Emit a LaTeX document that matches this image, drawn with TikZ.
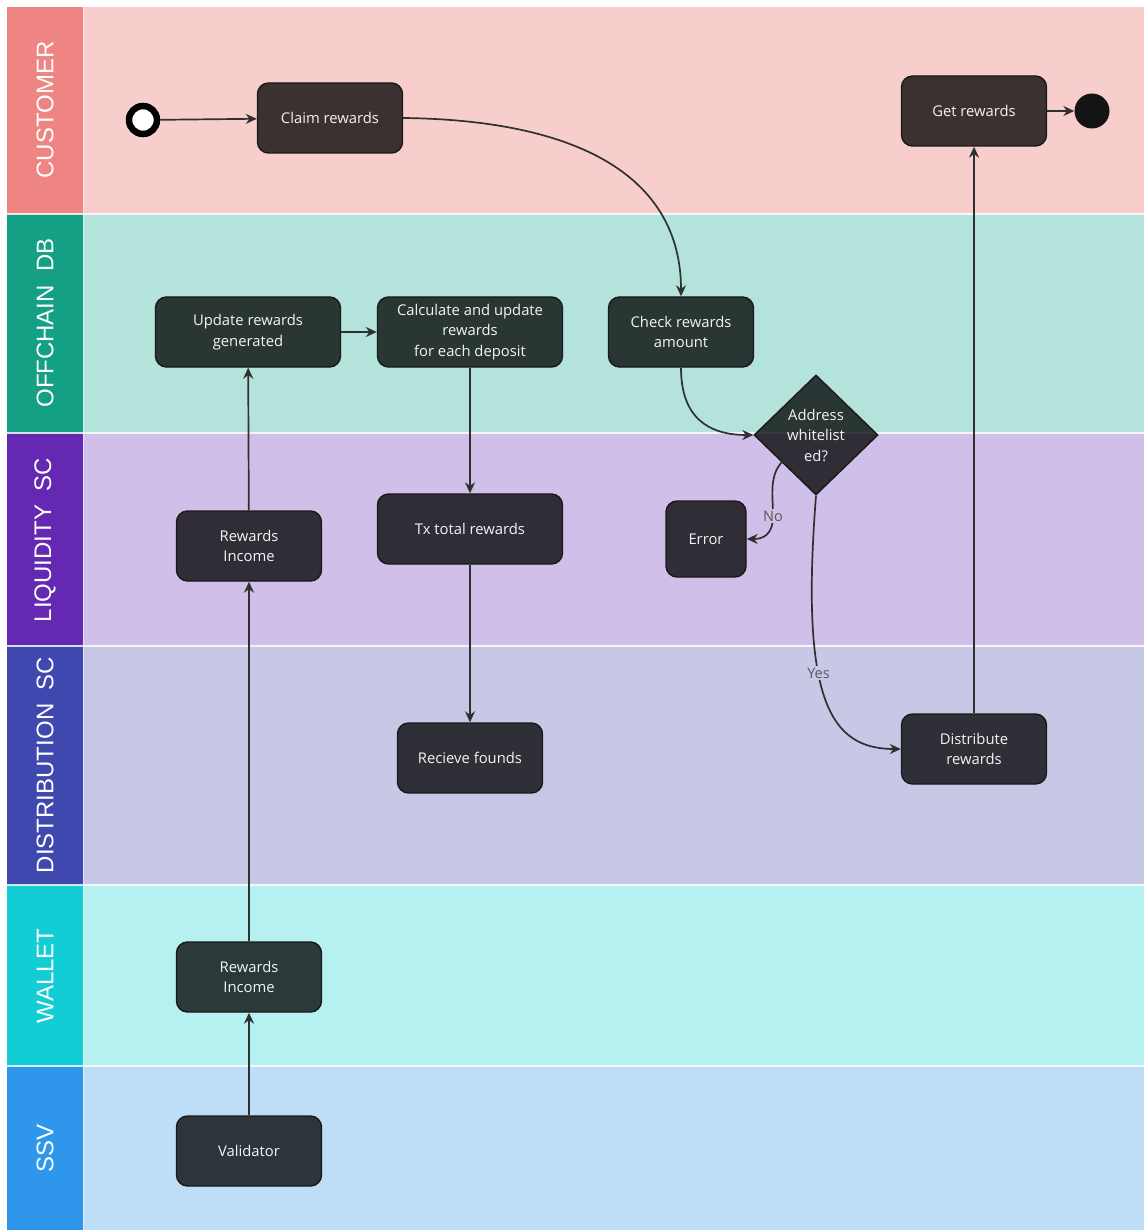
\documentclass[tikz,border=0pt]{standalone}
\usepackage{fontspec}
\setmainfont{Open Sans}
\newfontfamily\lanefont{Liberation Sans}
\usetikzlibrary{shapes.geometric,arrows.meta}
\definecolor{custL}{HTML}{EF8582}\definecolor{custB}{HTML}{F8CECC}
\definecolor{offL}{HTML}{14A085}\definecolor{offB}{HTML}{B3E3DA}
\definecolor{liqL}{HTML}{6528B2}\definecolor{liqB}{HTML}{D0BFE8}
\definecolor{disL}{HTML}{3F48AE}\definecolor{disB}{HTML}{C7C8E6}
\definecolor{walL}{HTML}{13CDD4}\definecolor{walB}{HTML}{B5F1F0}
\definecolor{ssvL}{HTML}{2E97EB}\definecolor{ssvB}{HTML}{BEDEF7}
\definecolor{edgec}{HTML}{303030}
\definecolor{boxtext}{HTML}{F4F4F4}
\begin{document}
\begin{tikzpicture}[x=1pt,y=-1pt,
  lanelabel/.style={rotate=90,text=white,font=\lanefont\fontsize{24}{24}\selectfont},
  actbox/.style={draw=black!90,line width=1.4pt,rounded corners=11pt,fill=black,fill opacity=0.76,text opacity=1,text=boxtext,
     font=\fontsize{14.8}{20.5}\selectfont,align=center,minimum height=70pt,inner sep=2pt},
  decision/.style={diamond,draw=black!90,line width=1.4pt,fill=black,fill opacity=0.76,text opacity=1,text=boxtext,
     font=\fontsize{14.8}{20.5}\selectfont,align=center,minimum width=124pt,minimum height=120pt,inner sep=0pt},
  flow/.style={draw=edgec,line width=1.7pt,-{Stealth[length=11pt,width=10pt]}},
  elabel/.style={fill=#1,text=black!65,font=\fontsize{14.5}{14.5}\selectfont,inner sep=1.5pt}
]
\useasboundingbox (0,0) rectangle (1144,1230);
\fill[white] (0,0) rectangle (1144,1230);
% lanes
\fill[custB] (83,7) rectangle (1144,214);
\fill[offB] (83,214) rectangle (1144,433);
\fill[liqB] (83,433) rectangle (1144,646);
\fill[disB] (83,646) rectangle (1144,885);
\fill[walB] (83,885) rectangle (1144,1066);
\fill[ssvB] (83,1066) rectangle (1144,1230);
\fill[custL] (7,7) rectangle (83,214);
\fill[offL] (7,214) rectangle (83,433);
\fill[liqL] (7,433) rectangle (83,646);
\fill[disL] (7,646) rectangle (83,885);
\fill[walL] (7,885) rectangle (83,1066);
\fill[ssvL] (7,1066) rectangle (83,1230);
\foreach \yy in {214,433,646,885,1066}{\draw[white,line width=1.5pt,opacity=0.8] (7,\yy) -- (1144,\yy);}
\draw[white,line width=1pt,opacity=0.5] (83,7) -- (83,1230);
\node[lanelabel] (lc) at (45,110) {CUSTOMER};
\node[lanelabel] (lo) at (45,323) {OFFCHAIN\ \ DB};
\node[lanelabel] (ll) at (45,540) {LIQUIDITY\ \ SC};
\node[lanelabel] (ld) at (45,765) {DISTRIBUTION\ \ SC};
\node[lanelabel] (lw) at (45,976) {WALLET};
\node[lanelabel] (ls) at (45,1148) {SSV};
% nodes
\node[circle,draw=black,line width=6.5pt,fill=white,minimum size=28pt,inner sep=0pt] (start) at (143,120) {};
\node[actbox,minimum width=145pt] (claim) at (330,118) {Claim rewards};
\node[actbox,minimum width=145pt] (get) at (974,111) {Get rewards};
\node[circle,fill=black!92,minimum size=35pt,inner sep=0pt] (end) at (1092,111) {};
\node[actbox,minimum width=185pt] (update) at (248,332) {Update rewards\\generated};
\node[actbox,minimum width=185pt] (calc) at (470,332) {Calculate and update\\rewards\\for each deposit};
\node[actbox,minimum width=145pt] (check) at (681,332) {Check rewards\\amount};
\node[decision] (dec) at (816,435) {Address\\whitelist\\ed?};
\node[actbox,minimum width=80pt,minimum height=76pt] (error) at (706,539) {Error};
\node[actbox,minimum width=145pt] (incl) at (249,546) {Rewards\\Income};
\node[actbox,minimum width=185pt] (tx) at (470,529) {Tx total rewards};
\node[actbox,minimum width=145pt] (recv) at (470,758) {Recieve founds};
\node[actbox,minimum width=145pt] (dist) at (974,749) {Distribute\\rewards};
\node[actbox,minimum width=145pt] (incw) at (249,977) {Rewards\\Income};
\node[actbox,minimum width=145pt] (val) at (249,1151) {Validator};
% connectors
\draw[flow] (start) -- (claim);
\draw[flow] (claim.east) .. controls +(175,2) and +(0,-120) .. (check.north);
\draw[flow] (update) -- (calc);
\draw[flow] (calc) -- (tx);
\draw[flow] (tx) -- (recv);
\draw[flow] (check.south) .. controls +(0,50) and +(-45,0) .. (dec.west);
\draw[flow] (dec.south west) ++(-2,-4) .. controls +(-14,14) and +(0,-20) .. (773,516)
   node[elabel=liqB] {No} .. controls +(0,20) and +(15,0) .. (error.east);
\draw[flow] (dec.south) .. controls (800,700) and (830,749) .. (dist.west)
   node[pos=0.4,elabel=disB] {Yes};
\draw[flow] (dist) -- (get);
\draw[flow] (get) -- (end);
\draw[flow] (incl) -- (update);
\draw[flow] (incw) -- (incl);
\draw[flow] (val) -- (incw);
\end{tikzpicture}
\end{document}
